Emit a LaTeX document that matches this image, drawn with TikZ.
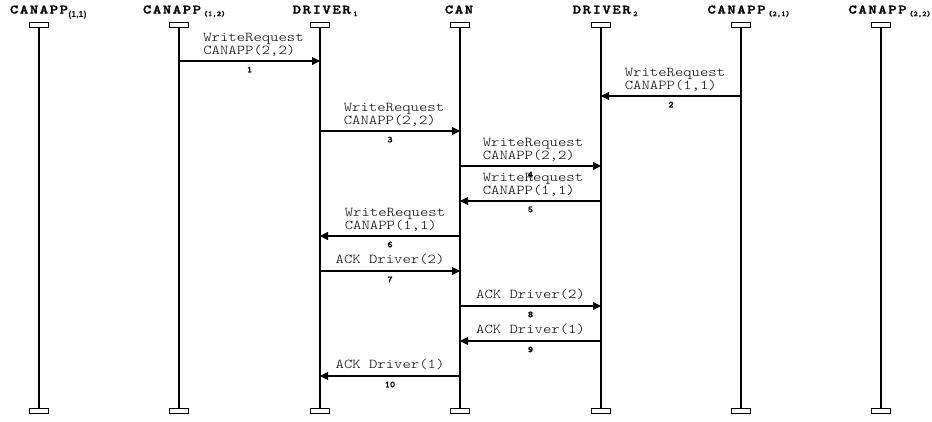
\documentclass[tikz,border=0pt]{standalone}
\usepackage{fontspec}
\usetikzlibrary{arrows.meta}
\newfontfamily\monof{lmmonolt10-regular.otf}[FakeStretch=1.18]
\newfontfamily\numf{lmmonolt10-bold.otf}[FakeStretch=1.1, FakeBold=1.2]
\newfontfamily\hdrf{lmmonolt10-bold.otf}[FakeStretch=1.25, LetterSpace=12, FakeBold=1.8]
\newfontfamily\subsf{Liberation Sans}
\newcommand{\msub}[1]{\rlap{\hspace{2.5pt}\raisebox{-2.6pt}{\numf\fontsize{7.6}{7.6}\selectfont #1}}}
\newcommand{\ssub}[1]{\rlap{\hspace{0.5pt}\raisebox{-3.8pt}{\subsf\bfseries\fontsize{8.7}{8.7}\selectfont #1}}}
\tikzset{
  lifebox/.style={draw, line width=0.8pt, minimum width=18.6pt, minimum height=5pt, inner sep=0pt},
  life/.style={line width=1.1pt},
  msg/.style={line width=1.1pt, -{Triangle[length=8pt,width=8pt]}},
  lbl/.style={font=\monof\fontsize{13.5}{12.8}\selectfont, align=left, anchor=south, inner sep=0pt, text depth=0pt},
  num/.style={font=\numf\fontsize{9}{9}\selectfont, inner sep=0pt},
  hdr/.style={font=\hdrf\fontsize{12.8}{13}\selectfont, anchor=base, inner sep=0pt}
}
\begin{document}
\begin{tikzpicture}[x=1pt,y=-1pt]
\useasboundingbox (0,0) rectangle (932,421);
% headers
\node[hdr] (h1) at (39,13.5) {CANAPP\ssub{(1,1)}};
\node[hdr] (h2) at (172,13.5) {CANAPP\msub{(1,2)}};
\node[hdr] (h3) at (321.7,13.5) {DRIVER\msub{1}};
\node[hdr] (h4) at (459,13.5) {CAN};
\node[hdr] (h5) at (601.7,13.5) {DRIVER\msub{2}};
\node[hdr] (h6) at (736.5,13.5) {CANAPP\msub{(2,1)}};
\node[hdr] (h7) at (877.5,13.5) {CANAPP\msub{(2,2)}};
% lifelines
\foreach \i/\x in {1/39,2/179,3/320,4/460,5/601,6/741,7/881}{
  \node[lifebox] (t\i) at (\x,25.1) {};
  \node[lifebox] (b\i) at (\x,411.3) {};
  \draw[life] (t\i) -- (b\i);
}
% message rows
\foreach \k/\y in {1/61,2/96,3/131,4/166,5/201,6/236,7/271,8/306,9/341,10/376}{
  \coordinate (m\k) at (0,\y);
}
\draw[msg] (t2 |- m1) -- (t3 |- m1);
\draw[msg] (t6 |- m2) -- (t5 |- m2);
\draw[msg] (t3 |- m3) -- (t4 |- m3);
\draw[msg] (t4 |- m4) -- (t5 |- m4);
\draw[msg] (t5 |- m5) -- (t4 |- m5);
\draw[msg] (t4 |- m6) -- (t3 |- m6);
\draw[msg] (t3 |- m7) -- (t4 |- m7);
\draw[msg] (t4 |- m8) -- (t5 |- m8);
\draw[msg] (t5 |- m9) -- (t4 |- m9);
\draw[msg] (t4 |- m10) -- (t3 |- m10);
% labels
\node[lbl] (l1) at (253.5,54.5) {WriteRequest\\CANAPP(2,2)};
\node[lbl] (l2) at (675,89.5) {WriteRequest\\CANAPP(1,1)};
\node[lbl] (l3) at (394,124.5) {WriteRequest\\CANAPP(2,2)};
\node[lbl] (l4) at (533,159.5) {WriteRequest\\CANAPP(2,2)};
\node[lbl] (l5) at (533,194.5) {WriteRequest\\CANAPP(1,1)};
\node[lbl] (l6) at (395,229.5) {WriteRequest\\CANAPP(1,1)};
\node[lbl] (l7) at (390,264) {ACK Driver(2)};
\node[lbl] (l8) at (530.5,299) {ACK Driver(2)};
\node[lbl] (l9) at (530.5,334) {ACK Driver(1)};
\node[lbl] (l10) at (390,369) {ACK Driver(1)};
% numbers
\node[num] (n1) at (249.5,69.5) {1};
\node[num] (n2) at (671,104.5) {2};
\node[num] (n3) at (390,139.5) {3};
\node[num] (n4) at (530.5,174.5) {4};
\node[num] (n5) at (530.5,209.5) {5};
\node[num] (n6) at (390,244.5) {6};
\node[num] (n7) at (390,279.5) {7};
\node[num] (n8) at (530.5,314.5) {8};
\node[num] (n9) at (530.5,349.5) {9};
\node[num] (n10) at (390,384.5) {10};
\end{tikzpicture}
\end{document}
